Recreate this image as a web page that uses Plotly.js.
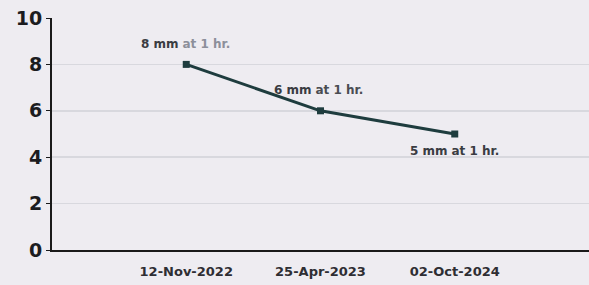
<!DOCTYPE html>
<html>
<head>
<meta charset="utf-8">
<script src="https://cdn.plot.ly/plotly-3.0.1.min.js"></script>
<style>html,body{margin:0;padding:0;background:#eeecf1;}#chart{width:589px;height:285px;}</style>
</head>
<body>
<div id="chart"></div>
<script>
var dates = ["12-Nov-2022", "25-Apr-2023", "02-Oct-2024"];
var esr = [8, 6, 5];
var unitText = "mm";
var suffixText = "at 1 hr.";
var yTicks = [0, 2, 4, 6, 8, 10];

// label styling (offsets in px, colours of the faded scan text)
var labelShift = [20, 21, -17];
var labelXShift = [-1, -2, 0];
var suffixColor = ["#8c8f9a", "#4a4c52", "#3a3c42"];

var trace = {
  x: dates,
  y: esr,
  type: "scatter",
  mode: "lines+markers",
  line: {color: "#1e3c3e", width: 3},
  marker: {symbol: "square", size: 7, color: "#1e3c3e"},
  cliponaxis: false,
  hoverinfo: "skip"
};

var annotations = esr.map(function (v, i) {
  return {
    x: dates[i],
    y: v,
    xref: "x",
    yref: "y",
    text: "<b>" + v + " " + unitText + "</b> <span style='color:" + suffixColor[i] + "'><b>" + suffixText + "</b></span>",
    showarrow: false,
    yshift: labelShift[i],
    xshift: labelXShift[i],
    font: {family: "DejaVu Sans, Arial, sans-serif", size: 12, color: "#3a3c42"}
  };
});

var layout = {
  width: 589,
  height: 285,
  margin: {l: 52, r: 0, t: 18, b: 35},
  paper_bgcolor: "#eeecf1",
  plot_bgcolor: "#eeecf1",
  showlegend: false,
  font: {family: "DejaVu Sans, Arial, sans-serif", color: "#222"},
  annotations: annotations,
  xaxis: {
    type: "category",
    range: [-1, 3],
    showgrid: false,
    showline: true,
    linecolor: "#1a1a1a",
    linewidth: 2,
    ticks: "",
    ticklabelstandoff: 8,
    tickfont: {family: "DejaVu Sans, Arial, sans-serif", size: 13, color: "#2e2e33", weight: "bold"},
    zeroline: false,
    fixedrange: true
  },
  yaxis: {
    range: [0, 10],
    tickvals: yTicks,
    ticktext: yTicks.map(String),
    showgrid: true,
    gridcolor: "#d8d8de",
    gridwidth: 1.5,
    showline: true,
    linecolor: "#1a1a1a",
    linewidth: 2,
    ticks: "outside",
    ticklen: 4,
    tickcolor: "#1a1a1a",
    ticklabelstandoff: 0,
    tickfont: {family: "DejaVu Sans, Arial, sans-serif", size: 19, color: "#1c1c1f", weight: "bold"},
    zeroline: false,
    fixedrange: true
  }
};

Plotly.newPlot("chart", [trace], layout, {displayModeBar: false, staticPlot: true});
</script>
</body>
</html>
